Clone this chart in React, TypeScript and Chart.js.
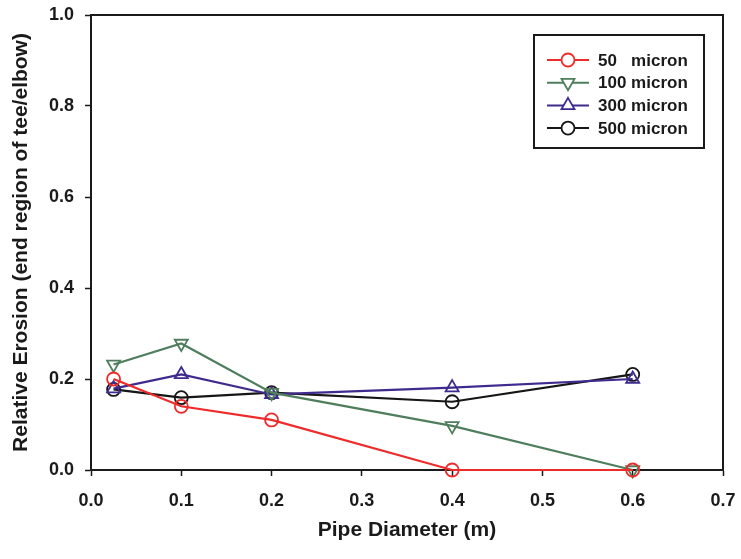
import React, { useEffect, useRef } from 'react';
import { Chart, registerables } from 'chart.js';
Chart.register(...registerables);

const diameters = [0.025, 0.1, 0.2, 0.4, 0.6];
const micron50 = [0.2, 0.14, 0.11, 0.0, 0.0];
const micron100 = [0.232, 0.278, 0.17, 0.097, 0.0];
const micron300 = [0.179, 0.21, 0.166, 0.181, 0.2];
const micron500 = [0.177, 0.159, 0.17, 0.15, 0.21];
const seriesNames = ['50', '100', '300', '500'];
const seriesUnit = 'micron';
const seriesColors = ['#ee2b2b', '#4f7e5c', '#3f2a8e', '#161616'];
const seriesMarkers = ['circle', 'triangle', 'triangle', 'circle'];
const seriesRotations = [0, 180, 0, 0];
const xTitle = 'Pipe Diameter (m)';
const yTitle = 'Relative Erosion (end region of tee/elbow)';
const xMin = 0, xMax = 0.7, xStep = 0.1;
const yMin = 0, yMax = 1.0, yStep = 0.2;

const FONT = "'Liberation Sans', Arial, sans-serif";

const frameAndLegend = {
  id: 'frameAndLegend',
  beforeDatasetsDraw(chart: any) {
    const { ctx, chartArea } = chart;
    ctx.save();
    ctx.strokeStyle = '#1a1a1a';
    ctx.lineWidth = 2;
    ctx.beginPath();
    ctx.moveTo(chartArea.left, chartArea.top);
    ctx.lineTo(chartArea.right, chartArea.top);
    ctx.lineTo(chartArea.right, chartArea.bottom);
    ctx.stroke();
    ctx.restore();
  },
  afterDraw(chart: any) {
    const { ctx } = chart;
    const bx = 534, by = 35, bw = 170, bh = 113;
    ctx.save();
    ctx.fillStyle = '#ffffff';
    ctx.fillRect(bx, by, bw, bh);
    ctx.strokeStyle = '#1a1a1a';
    ctx.lineWidth = 2;
    ctx.strokeRect(bx, by, bw, bh);
    ctx.font = `bold 17px ${FONT}`;
    ctx.textBaseline = 'middle';
    const numW = ctx.measureText('500 ').width;
    chart.data.datasets.forEach((ds: any, i: number) => {
      const y = 60 + i * 22.7;
      ctx.strokeStyle = ds.borderColor;
      ctx.lineWidth = 2;
      ctx.beginPath();
      ctx.moveTo(547, y);
      ctx.lineTo(589, y);
      ctx.stroke();
      ctx.lineWidth = 1.8;
      const mx = 568;
      ctx.beginPath();
      if (seriesMarkers[i] === 'circle') {
        ctx.arc(mx, y, 6.5, 0, Math.PI * 2);
      } else {
        const r = 7.5;
        const dir = seriesRotations[i] === 180 ? -1 : 1;
        ctx.moveTo(mx, y - dir * r);
        ctx.lineTo(mx + r * 0.866, y + dir * r * 0.5);
        ctx.lineTo(mx - r * 0.866, y + dir * r * 0.5);
        ctx.closePath();
      }
      ctx.fillStyle = '#ffffff';
      ctx.fill();
      ctx.stroke();
      ctx.fillStyle = '#1a1a1a';
      ctx.textAlign = 'left';
      ctx.fillText(seriesNames[i], 598, y + 1);
      ctx.fillText(seriesUnit, 598 + numW, y + 1);
    });
    ctx.restore();
  },
};

export default function App() {
  const ref = useRef<HTMLCanvasElement>(null);
  useEffect(() => {
    if (!ref.current) return;
    const all = [micron50, micron100, micron300, micron500];
    const chart = new Chart(ref.current, {
      type: 'line',
      data: {
        datasets: all.map((vals, i) => ({
          label: seriesNames[i] + ' ' + seriesUnit,
          data: diameters.map((d, j) => ({ x: d, y: vals[j] })),
          borderColor: seriesColors[i],
          backgroundColor: 'rgba(255,255,255,0)',
          pointBackgroundColor: 'rgba(255,255,255,0)',
          pointBorderColor: seriesColors[i],
          pointStyle: seriesMarkers[i] as any,
          pointRotation: seriesRotations[i],
          pointRadius: seriesMarkers[i] === 'circle' ? 6.5 : 7.5,
          pointBorderWidth: 1.8,
          borderWidth: 2.2,
          tension: 0,
          clip: false as any,
        })),
      },
      options: {
        animation: false,
        responsive: true,
        maintainAspectRatio: false,
        layout: { padding: { top: 15, right: 18, left: 0, bottom: 0 } },
        plugins: { legend: { display: false }, tooltip: { enabled: false } },
        scales: {
          x: {
            type: 'linear',
            min: xMin,
            max: xMax,
            afterFit: (s: any) => {
              s.height = 89;
              s.paddingLeft = 0;
              s.paddingRight = 0;
            },
            ticks: {
              stepSize: xStep,
              color: '#1a1a1a',
              padding: 14,
              font: { family: FONT, weight: 'bold', size: 18 },
              callback: (v: any) => Number(v).toFixed(1),
            },
            grid: { drawOnChartArea: false, drawTicks: true, tickLength: 6, tickColor: '#1a1a1a', tickWidth: 1.5 },
            border: { color: '#1a1a1a', width: 2 },
            title: {
              display: true,
              text: xTitle,
              color: '#1a1a1a',
              font: { family: FONT, weight: 'bold', size: 21 },
              padding: { top: 0, bottom: 16 },
            },
          },
          y: {
            type: 'linear',
            min: yMin,
            max: yMax,
            afterFit: (s: any) => {
              s.width = 91;
              s.paddingTop = 0;
              s.paddingBottom = 0;
            },
            ticks: {
              stepSize: yStep,
              color: '#1a1a1a',
              padding: 11,
              font: { family: FONT, weight: 'bold', size: 18 },
              callback: (v: any) => Number(v).toFixed(1),
            },
            grid: { drawOnChartArea: false, drawTicks: true, tickLength: 6, tickColor: '#1a1a1a', tickWidth: 1.5 },
            border: { color: '#1a1a1a', width: 2 },
            title: {
              display: true,
              text: yTitle,
              color: '#1a1a1a',
              font: { family: FONT, weight: 'bold', size: 21 },
              padding: { top: 9, bottom: 0 },
            },
          },
        },
      },
      plugins: [frameAndLegend],
    });
    return () => chart.destroy();
  }, []);
  return (
    <div style={{ position: 'fixed', left: 0, top: 0, width: 741, height: 559, background: '#fff' }}>
      <canvas ref={ref} />
    </div>
  );
}
